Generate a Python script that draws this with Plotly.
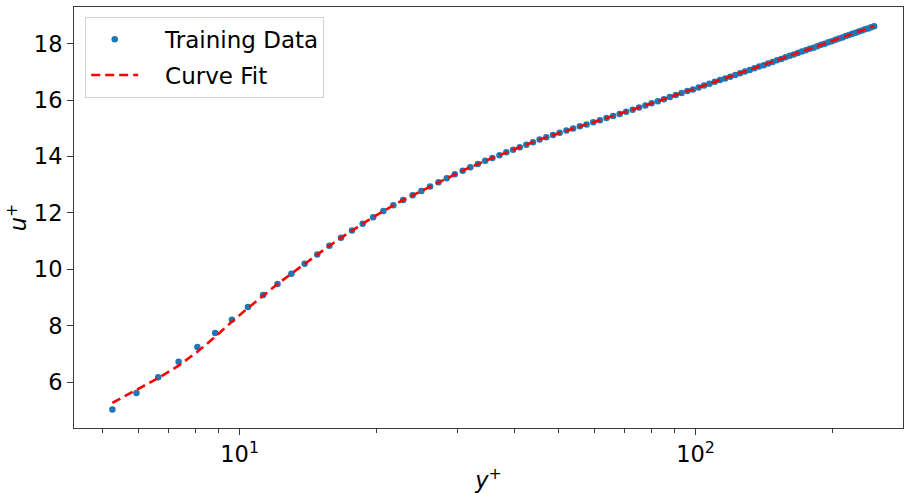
import plotly.graph_objects as go

# y+ positions of the training samples
y_plus = [
    5.26, 5.94, 6.63, 7.35, 8.08, 8.84, 9.62, 10.43, 11.26, 12.11,
    12.99, 13.89, 14.80, 15.74, 16.69, 17.64, 18.62, 19.63, 20.67, 21.74,
    22.84, 23.96, 25.05, 26.17, 27.31, 28.47, 29.65, 30.85, 32.07, 33.31,
    34.57, 35.85, 37.15, 38.47, 39.81, 41.17, 42.55, 44.00, 45.50, 47.06,
    48.68, 50.36, 52.10, 53.90, 55.76, 57.68, 59.66, 61.70, 63.80, 65.96,
    68.18, 70.46, 72.80, 75.19, 77.63, 80.12, 82.66, 85.24, 87.86, 90.52,
    93.22, 95.96, 98.74, 101.56, 104.42, 107.31, 110.23, 113.18, 116.16, 119.17,
    122.21, 125.28, 128.38, 131.51, 134.67, 137.86, 141.08, 144.33, 147.61, 150.91,
    154.23, 157.57, 160.93, 164.31, 167.71, 171.13, 174.57, 178.03, 181.51, 185.01,
    188.53, 192.07, 195.63, 199.20, 202.78, 206.37, 209.97, 213.58, 217.20, 220.83,
    224.47, 228.12, 231.78, 235.45, 239.13, 242.82, 246.52,
]

# u+ of the training data
u_data = [
    5.04, 5.62, 6.18, 6.73, 7.25, 7.75, 8.22, 8.67, 9.09, 9.48,
    9.85, 10.20, 10.53, 10.84, 11.12, 11.38, 11.62, 11.85, 12.07, 12.27,
    12.46, 12.63, 12.78, 12.94, 13.09, 13.23, 13.37, 13.50, 13.62, 13.74,
    13.85, 13.95, 14.05, 14.15, 14.24, 14.33, 14.42, 14.51, 14.60, 14.68,
    14.76, 14.84, 14.92, 14.99, 15.07, 15.14, 15.22, 15.29, 15.37, 15.44,
    15.51, 15.59, 15.66, 15.74, 15.81, 15.89, 15.96, 16.03, 16.11, 16.18,
    16.25, 16.32, 16.38, 16.45, 16.52, 16.58, 16.65, 16.71, 16.77, 16.83,
    16.89, 16.95, 17.01, 17.07, 17.13, 17.19, 17.24, 17.30, 17.35, 17.41,
    17.46, 17.52, 17.57, 17.62, 17.67, 17.72, 17.77, 17.82, 17.86, 17.91,
    17.96, 18.00, 18.05, 18.09, 18.14, 18.18, 18.22, 18.27, 18.31, 18.35,
    18.39, 18.43, 18.47, 18.51, 18.54, 18.58, 18.62,
]

# u+ of the curve fit evaluated at the same y+
u_fit = [
    5.27, 5.73, 6.15, 6.59, 7.08, 7.61, 8.15, 8.63, 9.08, 9.48,
    9.85, 10.20, 10.53, 10.84, 11.12, 11.38, 11.62, 11.85, 12.07, 12.27,
    12.46, 12.63, 12.78, 12.94, 13.09, 13.23, 13.37, 13.50, 13.62, 13.74,
    13.85, 13.95, 14.05, 14.15, 14.24, 14.33, 14.42, 14.51, 14.60, 14.68,
    14.76, 14.84, 14.92, 14.99, 15.07, 15.14, 15.22, 15.29, 15.37, 15.44,
    15.51, 15.59, 15.66, 15.74, 15.81, 15.89, 15.96, 16.03, 16.11, 16.18,
    16.25, 16.32, 16.38, 16.45, 16.52, 16.58, 16.65, 16.71, 16.77, 16.83,
    16.89, 16.95, 17.01, 17.07, 17.13, 17.19, 17.24, 17.30, 17.35, 17.41,
    17.46, 17.52, 17.57, 17.62, 17.67, 17.72, 17.77, 17.82, 17.86, 17.91,
    17.96, 18.00, 18.05, 18.09, 18.14, 18.18, 18.22, 18.27, 18.31, 18.35,
    18.39, 18.43, 18.47, 18.51, 18.54, 18.58, 18.62,
]

x_major_ticks = [10, 100]
x_major_labels = ["10<sup>1</sup>", "10<sup>2</sup>"]
x_minor_ticks = [5, 6, 7, 8, 9, 20, 30, 40, 50, 60, 70, 80, 90, 200]
y_ticks = [6, 8, 10, 12, 14, 16, 18]

FONT = "DejaVu Sans"
FS = 22.5
AXIS_COLOR = "#3a3a3a"
NB = "\u00a0\u00a0\u00a0"

fig = go.Figure()
fig.add_trace(go.Scatter(
    x=y_plus, y=u_data, mode="markers", name=NB + "Training Data",
    legendgroup="a",
    marker=dict(color="#1f77b4", size=6.5, line=dict(width=0)),
))
fig.add_trace(go.Scatter(
    x=y_plus, y=u_fit, mode="lines", name=NB + "Curve Fit",
    legendgroup="b",
    line=dict(color="red", width=2.6, dash="9px,5px"),
))

fig.update_layout(
    width=906, height=493,
    margin=dict(l=74, r=2, t=7, b=62),
    paper_bgcolor="white", plot_bgcolor="white",
    font=dict(family=FONT, size=FS, color="black"),
    showlegend=True,
    legend=dict(
        x=0.0135, y=0.977, xanchor="left", yanchor="top",
        bgcolor="rgba(255,255,255,0.8)", bordercolor="#d0d0d0", borderwidth=1,
        font=dict(family=FONT, size=23), itemwidth=47,
        traceorder="grouped", tracegroupgap=3,
    ),
)

fig.update_xaxes(
    type="log", range=[0.6368, 2.4551],
    tickmode="array", tickvals=x_major_ticks, ticktext=x_major_labels,
    ticks="outside", ticklen=6, tickwidth=1, tickcolor=AXIS_COLOR,
    minor=dict(tickmode="array", tickvals=x_minor_ticks, ticks="outside",
               ticklen=3.5, tickwidth=0.8, tickcolor=AXIS_COLOR, showgrid=False),
    showline=True, linecolor=AXIS_COLOR, linewidth=1, mirror=True,
    showgrid=False, zeroline=False,
    title=dict(text="<i>y</i><sup>+</sup>", standoff=8, font=dict(family=FONT, size=FS)),
    tickfont=dict(family=FONT, size=FS),
)
fig.update_yaxes(
    range=[4.38, 19.30],
    tickmode="array", tickvals=y_ticks,
    ticks="outside", ticklen=6, tickwidth=1, tickcolor=AXIS_COLOR,
    showline=True, linecolor=AXIS_COLOR, linewidth=1, mirror=True,
    showgrid=False, zeroline=False,
    title=dict(text="<i>u</i><sup>+</sup>", standoff=0, font=dict(family=FONT, size=FS)),
    tickfont=dict(family=FONT, size=FS),
)

fig.write_html("out.html")
